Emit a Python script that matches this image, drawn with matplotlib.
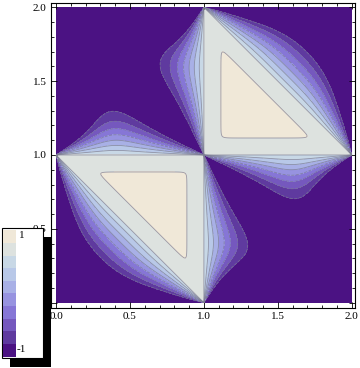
import numpy as np
import matplotlib.pyplot as plt
from matplotlib.patches import Rectangle

# points where the contour lines meet (corners of the two triangles)
vert_x = [0.0, 1.0, 1.0, 2.0, 1.0]
vert_y = [1.0, 0.0, 1.0, 1.0, 2.0]
vert_w = [1.8, 1.8, 0.8, 1.8, 1.8]

levels = [-1.0, -0.8, -0.6, -0.4, -0.2, 0.0, 0.2, 0.4, 0.6, 0.8, 1.0]
band_colors = ['#4b1283', '#5f3a9f', '#7558be', '#8676d6', '#9793e0',
               '#a8b0e6', '#b8c8e8', '#c8d8e6', '#dde2df', '#f0e8d8']
ticks = [0.0, 0.5, 1.0, 1.5, 2.0]
tick_labels = ['0.0', '0.5', '1.0', '1.5', '2.0']


def seg_dist(X, Y, ax_, ay_, bx_, by_):
    vx, vy = bx_ - ax_, by_ - ay_
    s = np.clip(((X - ax_) * vx + (Y - ay_) * vy) / (vx * vx + vy * vy), 0, 1)
    return np.hypot(X - ax_ - s * vx, Y - ay_ - s * vy)


# field on the square
n = 801
g = np.linspace(0, 2, n)
X, Y = np.meshgrid(g, g)
l1 = 1 - X
l2 = 1 - Y
l3 = X + Y - 1
l4 = 3 - X - Y
p = l1 * l2 * l3 * l4

r2 = [(X - a) ** 2 + (Y - b) ** 2 + 1e-12 for a, b in zip(vert_x, vert_y)]
prod = np.prod(r2, axis=0)
soft = sum((w * r) ** -3 for w, r in zip(vert_w, r2)) ** (-1 / 3)
t = p / (soft ** 0.739 * prod ** 0.261)

eps = 1e-9
d = ((np.abs(l1) + eps) ** -8 + (np.abs(l2) + eps) ** -8
     + (np.abs(l3) / np.sqrt(2) + eps) ** -8
     + (np.abs(l4) / np.sqrt(2) + eps) ** -8) ** (-1 / 8)
ds = np.minimum.reduce([np.abs(l1), np.abs(l2),
                        seg_dist(X, Y, 0, 1, 1, 0), seg_dist(X, Y, 2, 1, 1, 2)])

f_in = 0.6 + 0.4 * np.minimum(1, d / 0.23)
f_out = (0.6 - 1.4 * (np.abs(t) / 0.455) ** 0.9
         - 5 * np.maximum(0, ds - 0.31) ** 1.5)
Z = np.where(p > 0, f_in, f_out)
Z = np.clip(Z, -0.999, 0.999)

fig = plt.figure(figsize=(3.6, 3.68), dpi=100)
ax = fig.add_axes([50.7 / 360, (368 - 308) / 368, (355 - 50.7) / 360, (308 - 2.7) / 368])
ax.contourf(X, Y, Z, levels=levels, colors=band_colors)
ax.contour(X, Y, Z, levels=levels[1:-1], colors='#7a7a92', linewidths=0.6, alpha=0.75)
ax.set_xlim(-0.036, 2.022)
ax.set_ylim(-0.036, 2.031)

ax.set_xticks(ticks)
ax.set_yticks(ticks)
ax.set_xticklabels(tick_labels, family='Liberation Serif', fontsize=8)
ax.set_yticklabels(tick_labels, family='Liberation Serif', fontsize=8)
ax.set_xticks(np.arange(0, 2.01, 0.1), minor=True)
ax.set_yticks(np.arange(0, 2.01, 0.1), minor=True)
ax.tick_params(which='both', direction='in', top=True, right=True, width=0.6, pad=3)
ax.tick_params(which='major', length=4)
ax.tick_params(which='minor', length=2)
for s in ax.spines.values():
    s.set_linewidth(0.8)

# legend with drop shadow, drawn in pixel coordinates
lax = fig.add_axes([0, 0, 1, 1])
lax.set_xlim(0, 360)
lax.set_ylim(368, 0)
lax.axis('off')
lax.add_patch(Rectangle((9.7, 236.5), 41, 130, fc='black', ec='none'))
lax.add_patch(Rectangle((1.7, 228.3), 41, 129.4, fc='white', ec='black', lw=0.8))
sw_h = 126.5 / 10
for i, c in enumerate(band_colors[::-1]):
    lax.add_patch(Rectangle((3.3, 230.2 + i * sw_h), 12.7, sw_h, fc=c, ec='none'))
lax.text(19, 236, '1', family='Liberation Serif', fontsize=8, va='center', ha='left')
lax.text(16.3, 350, '-1', family='Liberation Serif', fontsize=8, va='center', ha='left')

fig.savefig('out.png', dpi=100)
